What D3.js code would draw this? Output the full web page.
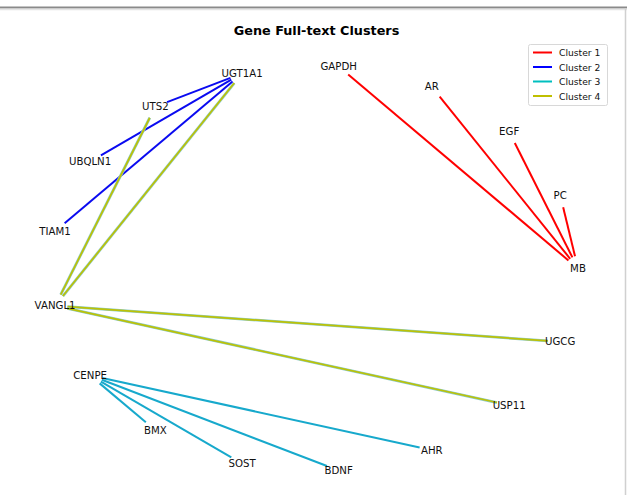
<!DOCTYPE html>
<html><head><meta charset="utf-8">
<script src="https://cdn.jsdelivr.net/npm/d3@7"></script>
<style>
html,body{margin:0;padding:0;background:#fff;}
svg{display:block;font-family:"DejaVu Sans",sans-serif;}
</style></head>
<body>
<script>
// Node names and their layout coordinates (circular layout)
const nodeNames = ["MB","PC","EGF","AR","GAPDH","UGT1A1","UTS2","UBQLN1","TIAM1","VANGL1","CENPE","BMX","SOST","BDNF","AHR","USP11","UGCG"];
const nodeX = [1.0, 0.9325, 0.739, 0.4457, 0.0923, -0.2737, -0.6026, -0.8502, -0.983, -0.983, -0.8502, -0.6026, -0.2737, 0.0923, 0.4457, 0.739, 0.9325];
const nodeY = [0.0, 0.3612, 0.6737, 0.8952, 0.9957, 0.9618, 0.798, 0.5264, 0.1837, -0.1837, -0.5264, -0.798, -0.9618, -0.9957, -0.8952, -0.6737, -0.3612];

// Edges per cluster
const clusterNames = ["Cluster 1","Cluster 2","Cluster 3","Cluster 4"];
const clusterColors = ["#ff0000","#0000ff","#00bfbf","#bfbf00"];
const edgeSource = ["MB","MB","MB","MB","UGT1A1","UGT1A1","UGT1A1","CENPE","CENPE","CENPE","CENPE","VANGL1","VANGL1","VANGL1","VANGL1"];
const edgeTarget = ["GAPDH","AR","EGF","PC","UTS2","UBQLN1","TIAM1","BMX","SOST","BDNF","AHR","UTS2","UGT1A1","UGCG","USP11"];
const edgeCluster = [0,0,0,0,1,1,1,2,2,2,2,3,3,3,3];

const title = "Gene Full-text Clusters";

const W = 627, H = 495;
const svg = d3.select("body").append("svg").attr("width", W).attr("height", H);

// frame decorations of the screenshot
svg.append("line").attr("x1",0).attr("x2",W).attr("y1",7.5).attr("y2",7.5).attr("stroke","#8a8a8a").attr("stroke-width",2);
svg.append("line").attr("x1",0).attr("x2",W).attr("y1",9.5).attr("y2",9.5).attr("stroke","#e4e4e4").attr("stroke-width",1.5);
svg.append("line").attr("x1",625.5).attr("x2",625.5).attr("y1",8).attr("y2",H).attr("stroke","#d0d0d0").attr("stroke-width",1.5);

const x = d3.scaleLinear().domain([-1, 1]).range([50.6, 578]);
const y = d3.scaleLinear().domain([-1, 1]).range([471.4, 65.6]);

const nodes = nodeNames.map((n, i) => ({name: n, px: x(nodeX[i]), py: y(nodeY[i])}));
const byName = new Map(nodes.map(d => [d.name, d]));
const edges = edgeSource.map((s, i) => ({s: byName.get(s), t: byName.get(edgeTarget[i]), c: edgeCluster[i]}));

const shrink = 12.5;
function ends(e) {
  const dx = e.t.px - e.s.px, dy = e.t.py - e.s.py, L = Math.hypot(dx, dy);
  const ux = dx / L, uy = dy / L;
  return [e.s.px + ux * shrink, e.s.py + uy * shrink, e.t.px - ux * shrink, e.t.py - uy * shrink];
}

// line colours as they appear (overlapping draws)
const drawColor = ["#ff0000", "#0a0af0", "#17a9cc", "#bcc206"];
const underColor = [null, null, null, "#8ccaca"];

const g = svg.append("g");
edges.forEach(e => {
  const [x1, y1, x2, y2] = ends(e);
  if (underColor[e.c]) {
    g.append("line").attr("x1",x1).attr("y1",y1).attr("x2",x2).attr("y2",y2)
      .attr("stroke", underColor[e.c]).attr("stroke-width", 2.8);
  }
  g.append("line").attr("x1",x1).attr("y1",y1).attr("x2",x2).attr("y2",y2)
    .attr("stroke", drawColor[e.c]).attr("stroke-width", underColor[e.c] ? 1.7 : 2);
});

svg.append("g").selectAll("text").data(nodes).join("text")
  .attr("x", d => d.px).attr("y", d => d.py)
  .attr("text-anchor", "middle").attr("dominant-baseline", "central")
  .attr("font-size", 10.2).attr("fill", "#111")
  .text(d => d.name);

svg.append("text").attr("x", 316.5).attr("y", 30).attr("dominant-baseline","central")
  .attr("text-anchor", "middle").attr("font-size", 12.8).attr("font-weight", "bold")
  .attr("fill","#000").text(title);

// legend
const lg = svg.append("g");
lg.append("rect").attr("x", 528.5).attr("y", 44.5).attr("width", 79).attr("height", 61)
  .attr("rx", 2).attr("fill", "#fff").attr("stroke", "#d8d8d8");
clusterNames.forEach((n, i) => {
  const yy = 52.5 + i * 14.5;
  lg.append("line").attr("x1", 533).attr("x2", 552).attr("y1", yy).attr("y2", yy)
    .attr("stroke", clusterColors[i]).attr("stroke-width", 2);
  lg.append("text").attr("x", 559).attr("y", yy).attr("dominant-baseline","central")
    .attr("font-size", 9.2).attr("fill", "#111").text(n);
});
</script>
</body></html>
